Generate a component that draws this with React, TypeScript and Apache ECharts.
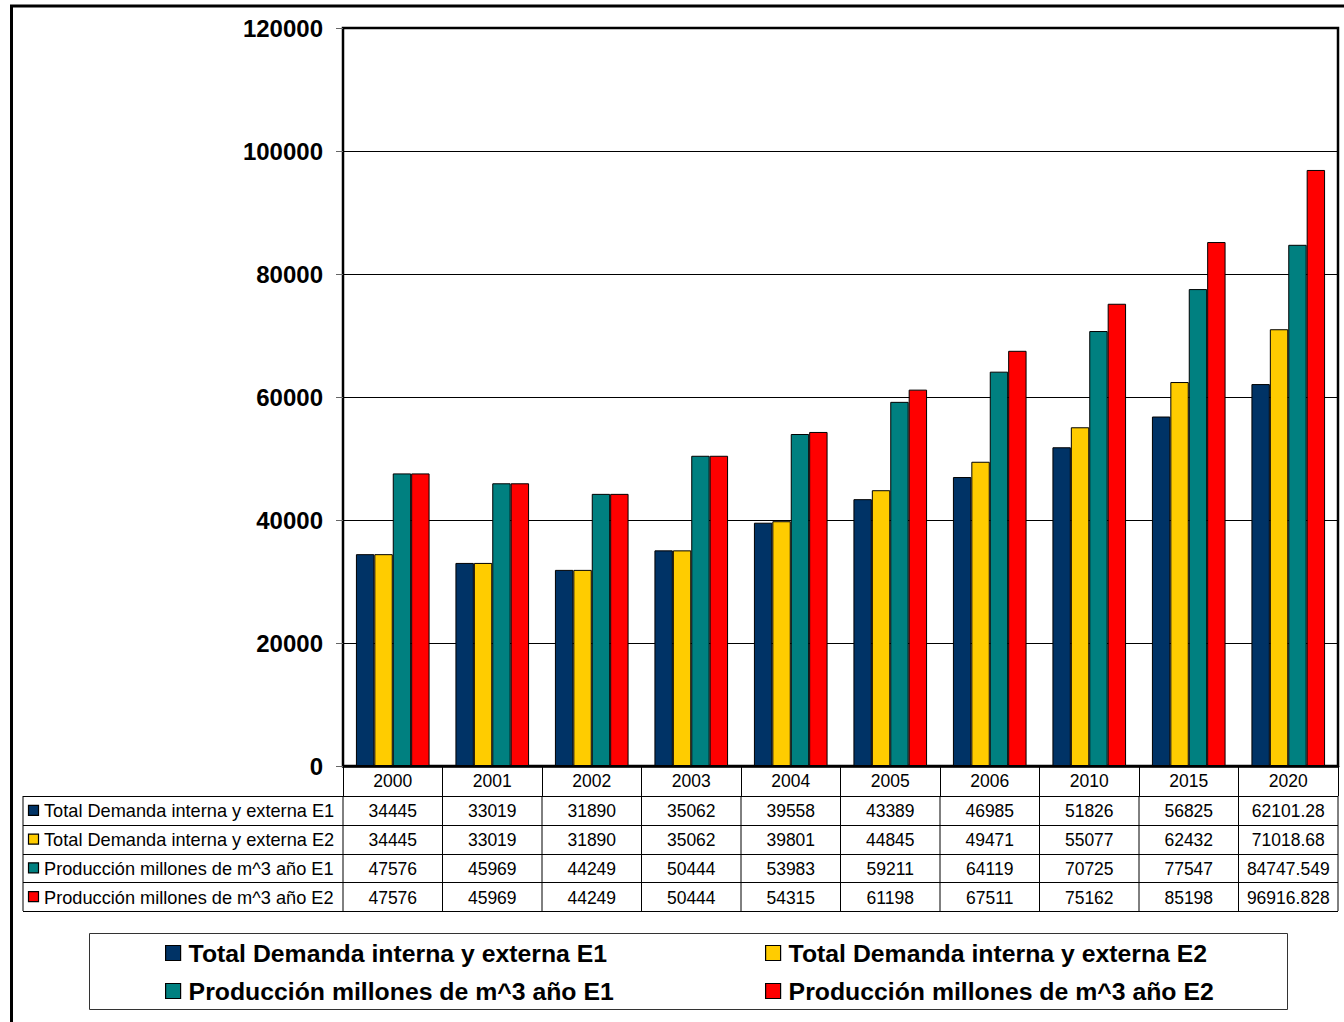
import React, { useEffect, useRef } from "react";
import * as echarts from "echarts";

const FONT = "'Liberation Sans', Arial, Helvetica, sans-serif";

const categories = ["2000", "2001", "2002", "2003", "2004", "2005", "2006", "2010", "2015", "2020"];
const seriesNames = [
  "Total Demanda interna y externa E1",
  "Total Demanda interna y externa E2",
  "Producción millones de m^3 año E1",
  "Producción millones de m^3 año E2",
];
const demandE1 = [34445, 33019, 31890, 35062, 39558, 43389, 46985, 51826, 56825, 62101.28];
const demandE2 = [34445, 33019, 31890, 35062, 39801, 44845, 49471, 55077, 62432, 71018.68];
const prodE1 = [47576, 45969, 44249, 50444, 53983, 59211, 64119, 70725, 77547, 84747.549];
const prodE2 = [47576, 45969, 44249, 50444, 54315, 61198, 67511, 75162, 85198, 96916.828];
const seriesColors = ["#003366", "#FFCC00", "#008080", "#FF0000"];
const yMin = 0;
const yMax = 120000;
const yStep = 20000;

export default function App() {
  const ref = useRef<HTMLDivElement>(null);

  useEffect(() => {
    if (!ref.current) return;
    const chart = echarts.init(ref.current, null, { renderer: "svg" });
    const allSeries = [demandE1, demandE2, prodE1, prodE2];

    const legendCommon = {
      top: 940,
      orient: "vertical",
      padding: 0,
      icon: "rect",
      itemWidth: 15,
      itemHeight: 15,
      itemGap: 12,
      itemStyle: { borderColor: "#000", borderWidth: 1.2 },
      textStyle: { fontSize: 24.8, fontWeight: "bold", color: "#000", fontFamily: FONT, lineHeight: 26, padding: [0, 0, 0, 3] },
    };

    chart.setOption({
      animation: false,
      backgroundColor: "#fff",
      textStyle: { fontFamily: FONT },
      grid: {
        left: 343,
        top: 28,
        width: 995,
        height: 738,
        show: true,
        borderColor: "#000",
        borderWidth: 2.5,
        containLabel: false,
        outerBoundsMode: "none",
      },
      legend: [
        { ...legendCommon, left: 165, data: [seriesNames[0], seriesNames[2]] },
        { ...legendCommon, left: 765, data: [seriesNames[1], seriesNames[3]] },
      ],
      xAxis: {
        type: "category",
        data: categories,
        axisLine: { show: true, lineStyle: { color: "#000", width: 2.5 } },
        axisTick: { show: true, length: 30, interval: 0, alignWithLabel: false, lineStyle: { color: "#000", width: 1 } },
        axisLabel: { interval: 0, fontSize: 17.5, color: "#000", margin: 6, fontFamily: FONT },
      },
      yAxis: {
        type: "value",
        min: yMin,
        max: yMax,
        interval: yStep,
        axisLine: { show: false },
        axisTick: { show: true, length: 7, lineStyle: { color: "#666", width: 1 } },
        axisLabel: {
          fontSize: 24,
          fontWeight: "bold",
          color: "#000",
          margin: 20,
          fontFamily: FONT,
          formatter: (v: number) => String(v),
        },
        splitLine: { show: true, lineStyle: { color: "#000", width: 1 } },
      },
      series: allSeries.map((values, i) => ({
        name: seriesNames[i],
        type: "bar",
        data: values,
        barGap: "0%",
        barCategoryGap: "26%",
        itemStyle: { color: seriesColors[i], borderColor: "#000", borderWidth: 1 },
      })),
    });

    // Data table below the axis, positioned from the axis scales
    const centers = categories.map((c) => chart.convertToPixel({ xAxisIndex: 0 }, c) as number);
    const band = centers[1] - centers[0];
    const leftEdge = centers[0] - band / 2;
    const rightEdge = centers[centers.length - 1] + band / 2;
    const axisY = chart.convertToPixel({ yAxisIndex: 0 }, 0) as number;
    const tableTop = axisY + 30;
    const rowH = 28.75;
    const tableLeft = 23;
    const elements: any[] = [];

    // outer frame
    elements.push({
      type: "rect",
      silent: true,
      shape: { x: 11.5, y: 6, width: 1400, height: 1100 },
      style: { fill: "none", stroke: "#000", lineWidth: 3 },
    });

    for (let r = 0; r <= allSeries.length; r++) {
      const y = Math.round(tableTop + r * rowH) + 0.5;
      elements.push({
        type: "line",
        silent: true,
        shape: { x1: tableLeft, y1: y, x2: rightEdge, y2: y },
        style: { stroke: "#000", lineWidth: 1 },
      });
    }
    const tableBottom = tableTop + allSeries.length * rowH;
    const vLines = [tableLeft, leftEdge];
    for (let k = 1; k <= categories.length; k++) vLines.push(leftEdge + k * band);
    vLines.forEach((x) => {
      elements.push({
        type: "line",
        silent: true,
        shape: { x1: x, y1: tableTop, x2: x, y2: tableBottom },
        style: { stroke: "#000", lineWidth: 1 },
      });
    });

    allSeries.forEach((values, r) => {
      const cy = tableTop + (r + 0.5) * rowH;
      elements.push({
        type: "rect",
        silent: true,
        shape: { x: 28.5, y: cy - 5, width: 10, height: 10 },
        style: { fill: seriesColors[r], stroke: "#000", lineWidth: 1.2 },
      });
      elements.push({
        type: "text",
        silent: true,
        x: 44,
        y: cy + 1,
        style: { text: seriesNames[r], fontSize: 18.2, fontFamily: FONT, fill: "#000", textAlign: "left", textVerticalAlign: "middle" },
      });
      values.forEach((v, i) => {
        elements.push({
          type: "text",
          silent: true,
          x: centers[i],
          y: cy + 1,
          style: { text: String(v), fontSize: 17.5, fontFamily: FONT, fill: "#000", textAlign: "center", textVerticalAlign: "middle" },
        });
      });
    });

    // legend frame
    elements.push({
      type: "rect",
      silent: true,
      z: -1,
      shape: { x: 89.5, y: 933.5, width: 1198, height: 76 },
      style: { fill: "none", stroke: "#333", lineWidth: 1 },
    });

    chart.setOption({ graphic: { elements } });

    return () => chart.dispose();
  }, []);

  return <div ref={ref} style={{ position: "fixed", left: 0, top: 0, width: 1344, height: 1022 }} />;
}
